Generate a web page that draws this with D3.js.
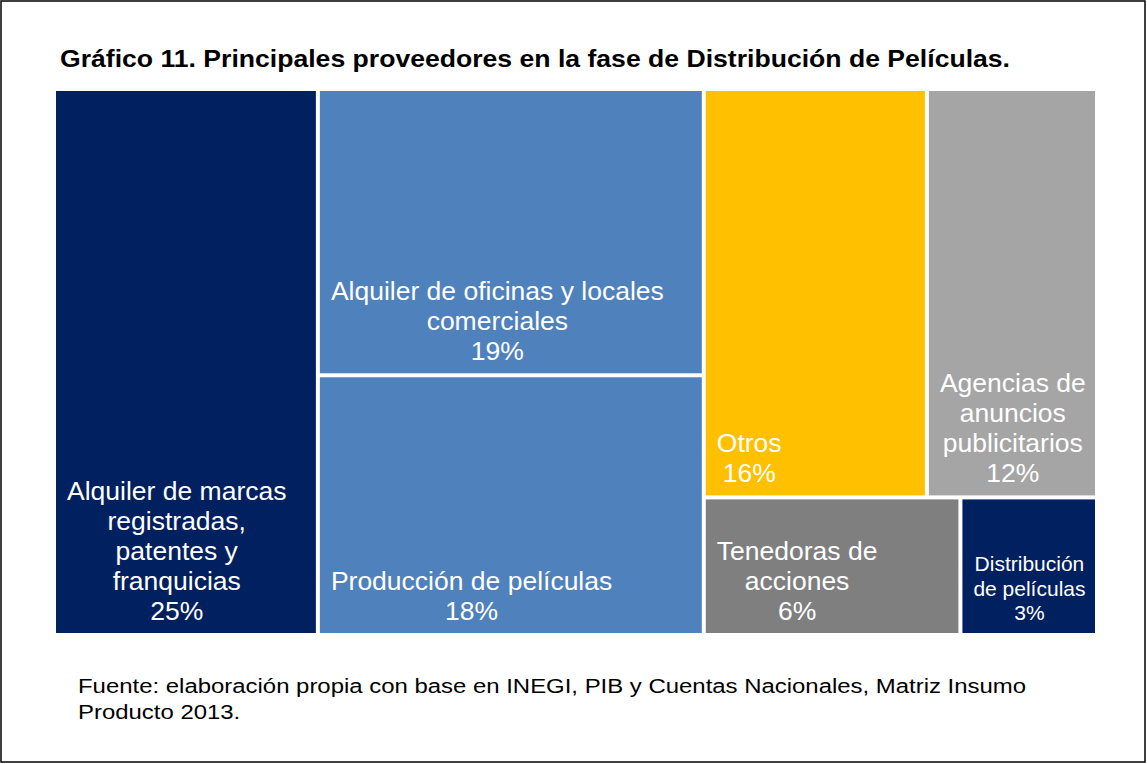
<!DOCTYPE html>
<html>
<head>
<meta charset="utf-8">
<script src="https://cdn.jsdelivr.net/npm/d3@7"></script>
<style>
  html, body { margin: 0; padding: 0; background: #fff; }
  svg { display: block; font-family: "Liberation Sans", Arial, sans-serif; }
</style>
</head>
<body>
<svg id="chart" width="1147" height="764"></svg>
<script>
// data (shares in %)
const categories = [
  'Alquiler de marcas registradas, patentes y franquicias',
  'Alquiler de oficinas y locales comerciales',
  'Producción de películas',
  'Otros',
  'Agencias de anuncios publicitarios',
  'Tenedoras de acciones',
  'Distribución de películas'
];
const values = [25.3, 19.4, 17.6, 16.0, 12.2, 6.2, 3.3];
// how the boxes are grouped: column, then row inside the column
const columnOf = [0, 1, 1, 2, 2, 2, 2];
const rowOf = [0, 0, 1, 0, 0, 1, 1];
// wrapped label lines as they appear in the boxes
const labelLines = [
  ['Alquiler de marcas', 'registradas,', 'patentes y', 'franquicias'],
  ['Alquiler de oficinas y locales', 'comerciales'],
  ['Producción de películas'],
  ['Otros'],
  ['Agencias de', 'anuncios', 'publicitarios'],
  ['Tenedoras de', 'acciones'],
  ['Distribución', 'de películas']
];
const colors = ['#002060', '#4f81bd', '#4f81bd', '#ffc000', '#a5a5a5', '#7f7f7f', '#002060'];
const smallLabel = [false, false, false, false, false, false, true];

const title = 'Gráfico 11. Principales proveedores en la fase de Distribución de Películas.';
const source = [
  'Fuente: elaboración propia con base en INEGI, PIB y Cuentas Nacionales, Matriz Insumo',
  'Producto 2013.'
];

const svg = d3.select('#chart');

// outer frame
svg.append('rect')
  .attr('x', 1).attr('y', 1)
  .attr('width', 1144).attr('height', 761)
  .attr('fill', '#fff')
  .attr('stroke', '#000')
  .attr('stroke-width', 1.5);

svg.append('text')
  .attr('x', 60).attr('y', 67)
  .attr('font-size', 24.5)
  .attr('font-weight', 'bold')
  .attr('fill', '#000')
  .attr('textLength', 950)
  .attr('lengthAdjust', 'spacingAndGlyphs')
  .text(title);

// nest leaves into columns -> rows
const leaves = categories.map((name, i) => ({
  name, value: values[i], col: columnOf[i], row: rowOf[i], index: i
}));
const tree = {
  children: d3.groups(leaves, (d) => d.col).map(([col, items]) => ({
    children: d3.groups(items, (d) => d.row).map(([row, cells]) => ({ children: cells }))
  }))
};

const root = d3.hierarchy(tree)
  .sum((d) => (d.children ? 0 : d.value));

d3.treemap()
  .tile(d3.treemapSliceDice)
  .size([1039, 542])
  .paddingInner(4)(root);

const pct = d3.format('.0f');

const cell = svg.append('g')
  .attr('transform', 'translate(56,91)')
  .selectAll('g')
  .data(root.leaves())
  .join('g');

cell.append('rect')
  .attr('x', (d) => d.x0)
  .attr('y', (d) => d.y0)
  .attr('width', (d) => d.x1 - d.x0)
  .attr('height', (d) => d.y1 - d.y0)
  .attr('fill', (d) => colors[d.data.index]);

cell.each(function drawLabel(d) {
  const i = d.data.index;
  const small = smallLabel[i];
  const size = small ? 21 : 26.5;
  const lineH = small ? 24.5 : 30;
  const lines = labelLines[i].concat(`${pct(values[i])}%`);
  const g = d3.select(this).append('g');
  const texts = g.selectAll('text')
    .data(lines)
    .join('text')
    .attr('font-size', size)
    .attr('fill', '#fff')
    .attr('text-anchor', 'middle')
    .attr('y', (t, k) => d.y1 - 13 - (lines.length - 1 - k) * lineH)
    .text((t) => t);
  let maxW = 0;
  texts.each(function measure() { maxW = Math.max(maxW, this.getComputedTextLength()); });
  texts.attr('x', d.x0 + 11 + maxW / 2);
});

// source note, slightly wide like the original
svg.append('g')
  .attr('transform', 'translate(78,0) scale(1.14,1)')
  .selectAll('text')
  .data(source)
  .join('text')
  .attr('x', 0)
  .attr('y', (t, k) => 693 + k * 26)
  .attr('font-size', 21)
  .attr('fill', '#000')
  .text((t) => t);
</script>
</body>
</html>
